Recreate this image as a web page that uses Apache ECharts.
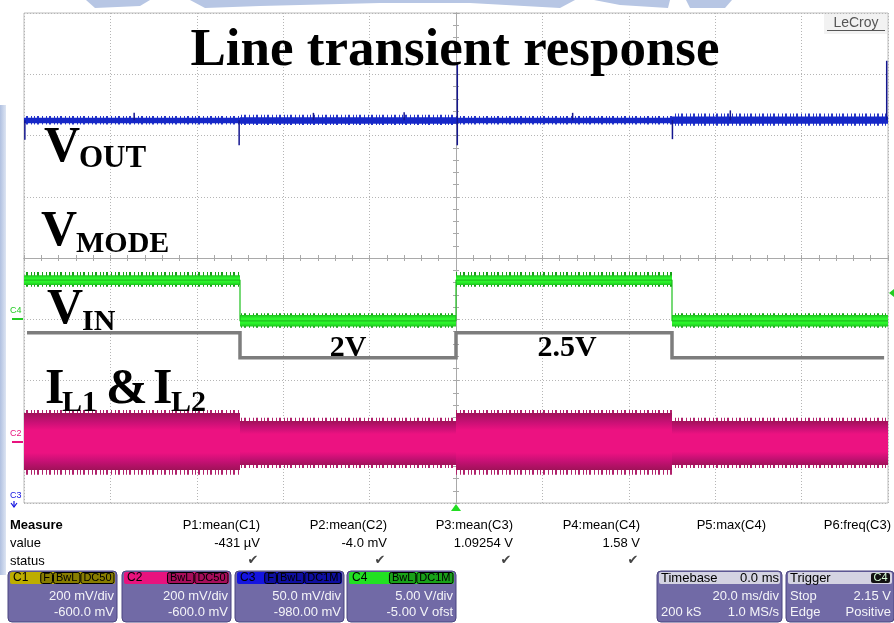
<!DOCTYPE html>
<html><head><meta charset="utf-8">
<script src="https://cdn.jsdelivr.net/npm/echarts@6/dist/echarts.min.js"></script>
<style>html,body{margin:0;padding:0;background:#fff}#c{width:894px;height:623px}</style>
</head><body><div id="c"></div>
<script>
// ---------- DATA ----------
// time axis in ms (20 ms/div, trigger at 0), vertical axis in screen divisions
const segStart = [-100, -50, 0, 50];
const segEnd   = [-50, 0, 50, 100];
const vinLabel = ['2.5V', '2V', '2.5V', '2V'];
// V_OUT (blue) noise band per segment + spikes
const voutFringeLo = [2.18, 2.17, 2.18, 2.16];
const voutFringeHi = [2.32, 2.34, 2.32, 2.36];
const voutCoreLo   = [2.20, 2.19, 2.20, 2.19];
const voutCoreHi   = [2.29, 2.30, 2.29, 2.31];
const voutSpikeT    = [-99.8, -74.5, -50.2, -33.0, -12.0, 0.3, 27.0, 50.1, 63.5, 99.7];
const voutSpikeFrom = [2.25, 2.25, 2.25, 2.25, 2.25, 3.18, 2.25, 2.25, 2.25, 3.22];
const voutSpikeTo   = [1.93, 2.37, 1.84, 2.37, 2.38, 1.84, 2.37, 1.94, 2.41, 2.25];
// V_IN (green)
const vinFringeLo = [-0.47, -1.14, -0.47, -1.14];
const vinFringeHi = [-0.23, -0.90, -0.23, -0.90];
const vinCoreLo   = [-0.44, -1.12, -0.44, -1.12];
const vinCoreHi   = [-0.28, -0.93, -0.28, -0.93];
// V_MODE (gray)
const vmodeT = [-99.3, -50, -50, 0, 0, 50, 50, 99.1];
const vmodeV = [-1.22, -1.22, -1.63, -1.63, -1.22, -1.22, -1.63, -1.63];
// I_L1 & I_L2 (pink)
const ilFringeLo = [-3.54, -3.43, -3.54, -3.43];
const ilFringeHi = [-2.48, -2.61, -2.48, -2.61];
const ilCoreLo   = [-3.46, -3.38, -3.46, -3.38];
const ilCoreHi   = [-2.53, -2.66, -2.53, -2.66];
// measurement table
const measNames  = ['P1:mean(C1)', 'P2:mean(C2)', 'P3:mean(C3)', 'P4:mean(C4)', 'P5:max(C4)', 'P6:freq(C3)'];
const measValues = ['-431 µV', '-4.0 mV', '1.09254 V', '1.58 V', '', ''];
const measOk     = [true, true, true, true, false, false];
// channel descriptors
const chNames  = ['C1', 'C2', 'C3', 'C4'];
const chBadges = [['F', 'BwL', 'DC50'], ['BwL', 'DC50'], ['F', 'BwL', 'DC1M'], ['BwL', 'DC1M']];
const chScale  = ['200 mV/div', '200 mV/div', '50.0 mV/div', '5.00 V/div'];
const chOffset = ['-600.0 mV', '-600.0 mV', '-980.00 mV', '-5.00 V ofst'];

// ---------- STYLE / LAYOUT ----------
const chColors = ['#bdad00', '#e8137e', '#1414e0', '#22e022'];
const chX = [8, 122, 235, 347];
const GL = 24, GT = 13, GW = 864, GH = 490;

function stripePattern(color, bg) {
  const c = document.createElement('canvas');
  c.width = 23; c.height = 4;
  const g = c.getContext('2d');
  if (bg) { g.fillStyle = bg; g.fillRect(0, 0, 23, 4); }
  g.fillStyle = color;
  [0, 3, 4, 8, 11, 14, 15, 19].forEach(x => g.fillRect(x, 0, 1, 4));
  return { type: 'pattern', image: c, repeat: 'repeat' };
}

function bandSeries(lo, hi, fill, z) {
  return {
    type: 'custom', z: z, clip: true, silent: true,
    data: segStart.map((s, i) => [s, segEnd[i], lo[i], hi[i]]),
    encode: { x: [0, 1], y: [2, 3] },
    renderItem: (p, api) => {
      const a = api.coord([api.value(0), api.value(3)]);
      const b = api.coord([api.value(1), api.value(2)]);
      return { type: 'rect', shape: { x: a[0], y: a[1], width: b[0] - a[0], height: b[1] - a[1] }, style: { fill: fill } };
    }
  };
}

const pinkGrad = new echarts.graphic.LinearGradient(0, 0, 0, 1, [
  { offset: 0, color: '#a01259' }, { offset: 0.16, color: '#c81075' },
  { offset: 0.3, color: '#ec1281' }, { offset: 0.7, color: '#ec1281' },
  { offset: 0.84, color: '#c81075' }, { offset: 1, color: '#a01259' }]);
const greenGrad = new echarts.graphic.LinearGradient(0, 0, 0, 1, [
  { offset: 0, color: '#1fc21f' }, { offset: 0.3, color: '#2cf52c' },
  { offset: 0.7, color: '#2cf52c' }, { offset: 1, color: '#1fc21f' }]);

const vinMid = segStart.map((s, i) => (vinCoreLo[i] + vinCoreHi[i]) / 2);
const vinStep = [];
segStart.forEach((s, i) => { vinStep.push([s, vinMid[i]]); vinStep.push([segEnd[i], vinMid[i]]); });

// ---------- GRAPHIC HELPERS ----------
const mctx = document.createElement('canvas').getContext('2d');
function tw(text, font) { mctx.font = font; return mctx.measureText(text).width; }
function T(x, y, text, font, fill, align, va, z) {
  return { type: 'text', x: x, y: y, z: z || 100, silent: true,
    style: { text: text, font: font, fill: fill, textAlign: align || 'left', textVerticalAlign: va || 'middle' } };
}
function R(x, y, w, h, fill, stroke, r, z) {
  return { type: 'rect', z: z || 90, silent: true, shape: { x: x, y: y, width: w, height: h, r: r || 0 },
    style: { fill: fill, stroke: stroke || null, lineWidth: stroke ? 1 : 0 } };
}
function L(x1, y1, x2, y2, color, w, z) {
  return { type: 'line', z: z || 95, silent: true, shape: { x1: x1, y1: y1, x2: x2, y2: y2 }, style: { stroke: color, lineWidth: w } };
}

const SANS = '"Liberation Sans", Arial, sans-serif';
const SERIF = '"Liberation Serif", "Times New Roman", serif';
const fBody = '13px ' + SANS;
const fHead = '12px ' + SANS;
const fBadge = '11px ' + SANS;
const g = [];

// watermark (light blue shapes at the top and left edge)
const wm = '#b7c6e4';
g.push({ type: 'polygon', z: 1, silent: true, shape: { points: [[86, 0], [150, 0], [140, 6], [95, 8]] }, style: { fill: wm } });
g.push({ type: 'polygon', z: 1, silent: true, shape: { points: [[190, 0], [575, 0], [560, 8], [470, 3], [380, 3], [260, 6], [205, 8]] }, style: { fill: wm } });
g.push({ type: 'polygon', z: 1, silent: true, shape: { points: [[594, 0], [670, 0], [668, 8], [620, 5]] }, style: { fill: wm } });
g.push({ type: 'polygon', z: 1, silent: true, shape: { points: [[686, 0], [732, 0], [725, 8], [690, 8]] }, style: { fill: wm } });
g.push({ type: 'rect', z: 1, silent: true, shape: { x: 0, y: 105, width: 6, height: 470 },
  style: { fill: new echarts.graphic.LinearGradient(0, 0, 1, 0, [{ offset: 0, color: '#b0c0e0' }, { offset: 1, color: '#dde5f3' }]) } });

// LeCroy logo
g.push(R(824, 14, 63, 20, '#f2f2f2', null, 0, 80));
g.push(T(856, 23, 'LeCroy', '14px ' + SANS, '#555', 'center', 'middle'));
g.push(L(827, 30.5, 885, 30.5, '#555', 1));

// annotation texts
g.push(T(455, 51, 'Line transient response', 'bold 53px ' + SERIF, '#000', 'center'));
g.push(T(44, 148, 'V', 'bold 50px ' + SERIF, '#000'));
g.push(T(79, 159, 'OUT', 'bold 31px ' + SERIF, '#000'));
g.push(T(41, 232, 'V', 'bold 50px ' + SERIF, '#000'));
g.push(T(76, 244, 'MODE', 'bold 30px ' + SERIF, '#000'));
g.push(T(47, 310, 'V', 'bold 50px ' + SERIF, '#000'));
g.push(T(82, 322, 'IN', 'bold 30px ' + SERIF, '#000'));
g.push(T(45, 390, 'I', 'bold 50px ' + SERIF, '#000'));
g.push(T(62, 403, 'L1', 'bold 30px ' + SERIF, '#000'));
g.push(T(106, 390, '&', 'bold 50px ' + SERIF, '#000'));
g.push(T(153, 390, 'I', 'bold 50px ' + SERIF, '#000'));
g.push(T(171, 403, 'L2', 'bold 30px ' + SERIF, '#000'));
g.push(T(348, 348, vinLabel[1], 'bold 30px ' + SERIF, '#000', 'center'));
g.push(T(567, 348, vinLabel[2], 'bold 30px ' + SERIF, '#000', 'center'));

// channel ground markers
g.push(T(10, 311, 'C4', '9px ' + SANS, '#22cc22'));
g.push(L(12, 319, 23, 319, '#22cc22', 2));
g.push(T(10, 434, 'C2', '9px ' + SANS, '#e8137e'));
g.push(L(12, 442, 23, 442, '#e8137e', 2));
g.push(T(10, 496, 'C3', '9px ' + SANS, '#1414e0'));
g.push({ type: 'polyline', z: 95, silent: true, shape: { points: [[11, 503], [14, 507], [17, 503]] }, style: { stroke: '#1414e0', lineWidth: 1.2, fill: null } });
g.push(L(14, 501, 14, 507, '#1414e0', 1.2));
// trigger markers
g.push({ type: 'polygon', z: 95, silent: true, shape: { points: [[889, 293], [894, 289], [894, 297]] }, style: { fill: '#22cc22' } });
g.push({ type: 'polygon', z: 95, silent: true, shape: { points: [[456, 504], [451, 511], [461, 511]] }, style: { fill: '#22dd22' } });

// measurement table
const colRight = [260, 387, 513, 640, 766, 891];
g.push(T(10, 525, 'Measure', 'bold 13px ' + SANS, '#000'));
g.push(T(10, 543, 'value', fBody, '#000'));
g.push(T(10, 561, 'status', fBody, '#000'));
measNames.forEach((n, i) => {
  g.push(T(colRight[i], 525, n, fBody, '#000', 'right'));
  if (measValues[i]) g.push(T(colRight[i], 543, measValues[i], fBody, '#000', 'right'));
  if (measOk[i]) g.push(T(colRight[i] - 7, 561, '\u2714', '13px "DejaVu Sans"', '#444', 'center'));
});

// channel boxes
const bodyFill = '#716aa6', bodyStroke = '#4b4580', bodyText = '#f4f4f8';
function badgeRow(rightX, y, items, fill, textFill) {
  let x = rightX;
  for (let k = items.length - 1; k >= 0; k--) {
    const w = tw(items[k], fBadge) + 5;
    x -= w;
    g.push(R(x, y, w, 11, fill, '#000', 2, 96));
    g.push(T(x + w / 2, y + 5.8, items[k], fBadge, textFill, 'center', 'middle', 97));
    x -= 1;
  }
}
chNames.forEach((n, i) => {
  const x = chX[i], w = 109;
  g.push(R(x, 571, w, 51, bodyFill, bodyStroke, 4));
  g.push(R(x + 2, 572, w - 4, 12, chColors[i], null, 2, 91));
  g.push(T(x + 5, 578, n, fHead, '#000', 'left', 'middle', 97));
  badgeRow(x + w - 3, 572.5, chBadges[i], 'rgba(0,0,0,0.28)', '#000');
  g.push(T(x + w - 3, 596, chScale[i], fBody, bodyText, 'right'));
  g.push(T(x + w - 3, 612, chOffset[i], fBody, bodyText, 'right'));
});
// timebase box
g.push(R(657, 571, 125, 51, bodyFill, bodyStroke, 4));
g.push(R(659, 572, 121, 12, '#d4d3e2', null, 2, 91));
g.push(T(661, 578, 'Timebase', fBody, '#000'));
g.push(T(779, 578, '0.0 ms', fBody, '#000', 'right'));
g.push(T(779, 596, '20.0 ms/div', fBody, bodyText, 'right'));
g.push(T(661, 612, '200 kS', fBody, bodyText));
g.push(T(779, 612, '1.0 MS/s', fBody, bodyText, 'right'));
// trigger box
g.push(R(786, 571, 108, 51, bodyFill, bodyStroke, 4));
g.push(R(788, 572, 104, 12, '#d4d3e2', null, 2, 91));
g.push(T(790, 578, 'Trigger', fBody, '#000'));
g.push(R(871, 573, 19, 10, '#111', null, 2, 96));
g.push(T(880.5, 578, 'C4', fBadge, '#d8ffd8', 'center', 'middle', 97));
g.push(T(790, 596, 'Stop', fBody, bodyText));
g.push(T(891, 596, '2.15 V', fBody, bodyText, 'right'));
g.push(T(790, 612, 'Edge', fBody, bodyText));
g.push(T(891, 612, 'Positive', fBody, bodyText, 'right'));

// ---------- CHART ----------
const gridLine = { show: true, lineStyle: { color: '#b5b5b5', width: 1, type: [1, 2] } };
const ctrLine = { show: true, onZero: true, lineStyle: { color: '#a9a9a9', width: 1 } };
const tick = { show: true, inside: true, length: 3, lineStyle: { color: '#a9a9a9' } };
const minor = { show: true, splitNumber: 5, length: 3, lineStyle: { color: '#a9a9a9' } };
const xBase = { type: 'value', min: -100, max: 100, interval: 20, axisLabel: { show: false } };
const yBase = { type: 'value', min: -4, max: 4, interval: 1, axisLabel: { show: false } };

const chart = echarts.init(document.getElementById('c'), null, { renderer: 'canvas', width: 894, height: 623 });
chart.setOption({
  animation: false,
  backgroundColor: '#fff',
  grid: { left: GL, top: GT, width: GW, height: GH, show: true, borderColor: '#bdbdbd', borderWidth: 1 },
  xAxis: [
    Object.assign({}, xBase, { position: 'bottom', axisLine: ctrLine, axisTick: tick, minorTick: minor, splitLine: gridLine }),
    Object.assign({}, xBase, { position: 'top', axisLine: ctrLine, axisTick: tick, minorTick: minor, splitLine: { show: false } })
  ],
  yAxis: [
    Object.assign({}, yBase, { position: 'left', axisLine: ctrLine, axisTick: tick, minorTick: minor, splitLine: gridLine }),
    Object.assign({}, yBase, { position: 'right', axisLine: ctrLine, axisTick: tick, minorTick: minor, splitLine: { show: false } })
  ],
  series: [
    // I_L1 & I_L2
    bandSeries(ilFringeLo, ilFringeHi, stripePattern('#b0226c'), 10),
    bandSeries(ilCoreLo, ilCoreHi, pinkGrad, 11),
    // V_IN
    bandSeries(vinFringeLo, vinFringeHi, stripePattern('#179d17'), 12),
    bandSeries(vinCoreLo, vinCoreHi, greenGrad, 13),
    { type: 'line', z: 14, silent: true, symbol: 'none', data: vinStep, lineStyle: { color: '#1cc01c', width: 1.2 } },
    // V_MODE
    { type: 'line', z: 15, silent: true, symbol: 'none', data: vmodeT.map((t, i) => [t, vmodeV[i]]),
      lineStyle: { color: '#7d7d7d', width: 3.5, join: 'miter' } },
    // V_OUT
    bandSeries(voutFringeLo, voutFringeHi, stripePattern('#2a38c8'), 16),
    bandSeries(voutCoreLo, voutCoreHi, '#1628c8', 17),
    {
      type: 'custom', z: 18, clip: true, silent: true,
      data: voutSpikeT.map((t, i) => [t, voutSpikeFrom[i], voutSpikeTo[i]]),
      encode: { x: 0, y: [1, 2] },
      renderItem: (p, api) => {
        const a = api.coord([api.value(0), api.value(1)]);
        const b = api.coord([api.value(0), api.value(2)]);
        return { type: 'line', shape: { x1: a[0], y1: a[1], x2: b[0], y2: b[1] }, style: { stroke: '#14168f', lineWidth: 1.5 } };
      }
    }
  ],
  graphic: g
});
</script></body></html>
